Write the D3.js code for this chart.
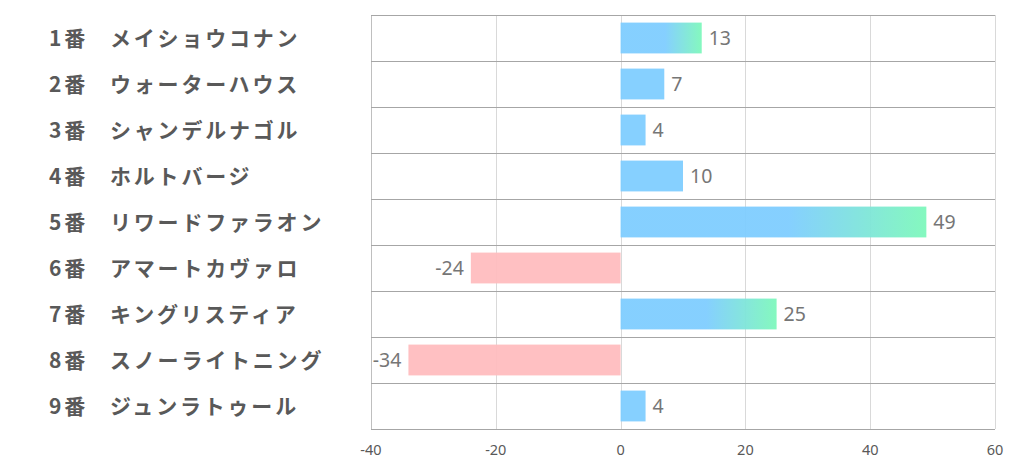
<!DOCTYPE html>
<html>
<head>
<meta charset="utf-8">
<script src="https://cdn.jsdelivr.net/npm/d3@7"></script>
<style>
  html, body { margin: 0; padding: 0; background: #fff; }
  svg { display: block; }
</style>
</head>
<body>
<svg id="chart" width="1022" height="470"></svg>
<script>
const numbers = ["1番", "2番", "3番", "4番", "5番", "6番", "7番", "8番", "9番"];
const horses = ["メイショウコナン", "ウォーターハウス", "シャンデルナゴル", "ホルトバージ", "リワードファラオン", "アマートカヴァロ", "キングリスティア", "スノーライトニング", "ジュンラトゥール"];
const values = [13, 7, 4, 10, 49, -24, 25, -34, 4];
const xTicks = [-40, -20, 0, 20, 40, 60];
const xDomain = [-40, 60];
const gradientMin = 12;

const svg = d3.select("#chart");
const margin = { left: 371, right: 27, top: 15, bottom: 41 };
const W = 1022, H = 470;
const x = d3.scaleLinear().domain(xDomain).range([margin.left, W - margin.right]);
const y = d3.scaleBand().domain(d3.range(values.length)).range([margin.top, H - margin.bottom]).paddingInner(0.33).paddingOuter(0.165);
const yRows = d3.scaleBand().domain(d3.range(values.length)).range([margin.top, H - margin.bottom]);

const defs = svg.append("defs");
const grad = defs.append("linearGradient").attr("id", "posGrad")
  .attr("x1", "0%").attr("x2", "100%").attr("y1", "0%").attr("y2", "0%");
grad.append("stop").attr("offset", "0%").attr("stop-color", "#7fcdff");
grad.append("stop").attr("offset", "55%").attr("stop-color", "#7fcdff");
grad.append("stop").attr("offset", "100%").attr("stop-color", "#7ef8bb");

// vertical gridlines
svg.append("g").selectAll("line").data(xTicks).join("line")
  .attr("x1", d => Math.round(x(d)) + 0.5).attr("x2", d => Math.round(x(d)) + 0.5)
  .attr("y1", margin.top).attr("y2", H - margin.bottom)
  .attr("stroke", d => d === xDomain[0] ? "#bfbfbf" : "#d9d9d9").attr("stroke-width", 1);

// horizontal row separators
const seps = d3.range(values.length + 1);
svg.append("g").selectAll("line").data(seps).join("line")
  .attr("x1", margin.left).attr("x2", W - margin.right)
  .attr("y1", d => Math.round(margin.top + d * yRows.step()) + 0.5)
  .attr("y2", d => Math.round(margin.top + d * yRows.step()) + 0.5)
  .attr("stroke", "#a6a6a6").attr("stroke-width", 1);

// bars
svg.append("g").selectAll("rect").data(values).join("rect")
  .attr("x", d => x(Math.min(0, d)))
  .attr("width", d => Math.abs(x(d) - x(0)))
  .attr("y", (d, i) => y(i))
  .attr("height", y.bandwidth())
  .attr("fill", d => d < 0 ? "#ffbdbf" : (d >= gradientMin ? "url(#posGrad)" : "#7fcdff"))
  .attr("opacity", 0.95);

// value labels
svg.append("g").selectAll("text").data(values).join("text")
  .attr("x", d => d < 0 ? x(d) - 7 : x(d) + 7)
  .attr("y", (d, i) => y(i) + y.bandwidth() / 2)
  .attr("dy", "0.36em")
  .attr("text-anchor", d => d < 0 ? "end" : "start")
  .attr("font-family", "'Noto Sans', 'Open Sans', sans-serif")
  .attr("font-size", 19.5)
  .attr("fill", "#767676")
  .text(d => d);

// category labels
const lab = svg.append("g").selectAll("text").data(horses).join("text")
  .attr("x", 49)
  .attr("y", (d, i) => yRows(i) + yRows.bandwidth() / 2)
  .attr("dy", "0.36em")
  .attr("font-family", "'Noto Sans CJK JP', sans-serif")
  .attr("font-weight", "bold")
  .attr("font-size", 21)
  .attr("fill", "#595959")
  .attr("letter-spacing", "2.8px");
lab.append("tspan").text((d, i) => numbers[i]);
lab.append("tspan").attr("x", 110).text(d => d);

// x axis tick labels
svg.append("g").selectAll("text").data(xTicks).join("text")
  .attr("x", d => x(d))
  .attr("y", 450)
  .attr("dy", "0.36em")
  .attr("text-anchor", "middle")
  .attr("font-family", "'Noto Sans', 'Open Sans', sans-serif")
  .attr("font-size", 14.5)
  .attr("fill", "#595959")
  .text(d => d);
</script>
</body>
</html>
